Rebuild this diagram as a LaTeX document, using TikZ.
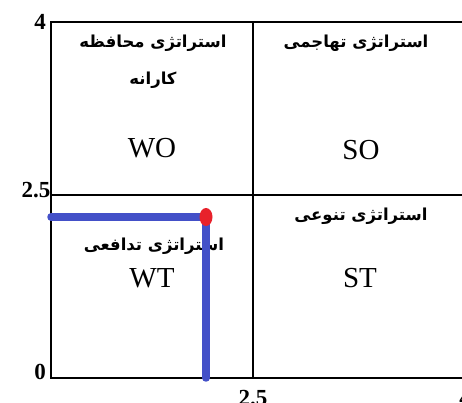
\documentclass[tikz,border=0pt]{standalone}
\usepackage{fontspec}
\setmainfont{Liberation Serif}
\newfontfamily\farsi[Script=Arabic]{DejaVu Sans}
\TeXXeTstate=1
\usetikzlibrary{positioning}
\definecolor{routeblue}{HTML}{4350C8}
\definecolor{dotred}{HTML}{E8212B}
\tikzset{
  frame/.style={line width=1.8pt,black},
  strat/.style={font=\farsi\bfseries\fontsize{16.5}{37}\selectfont,align=center,inner sep=0pt},
  code/.style={font=\fontsize{29}{29}\selectfont,inner sep=0pt},
  tick/.style={font=\bfseries\fontsize{23}{23}\selectfont,inner sep=0pt},
  routeline/.style={routeblue,line width=7.5pt,line cap=round},
}
\begin{document}
\begin{tikzpicture}[x=1pt,y=1pt]
  \useasboundingbox (0,0) rectangle (462,403);
  \clip (0,0) rectangle (462,403);
  % quadrant frame
  \coordinate (bl) at (51,25);
  \coordinate (tr) at (480,381);
  \draw[frame] (bl) rectangle (tr);
  \draw[frame] (253,25) -- (253,381);
  \draw[frame] (51,208) -- (480,208);
  % axis values
  \node[tick] (y4) at (40,381) {4};
  \node[tick] (y25) at (36,213) {2.5};
  \node[tick] (y0) at (40,31) {0};
  \node[tick] (x25) at (253,5) {2.5};
  \node[tick] (x4) at (465,5) {4};
  % quadrant texts
  \node[strat] (wo-t) at (153,341) {\beginR استراتژی محافظه\endR\\\beginR کارانه\endR};
  \node[code] (wo) at (152,255) {WO};
  \node[strat] (so-t) at (356,360) {\beginR استراتژی تهاجمی\endR};
  \node[code] (so) at (361,253) {SO};
  \node[strat] (st-t) at (361,187) {\beginR استراتژی تنوعی\endR};
  \node[code] (st) at (360,125) {ST};
  \node[strat] (wt-t) at (154,157) {\beginR استراتژی تدافعی\endR};
  \node[code] (wt) at (152,125) {WT};
  % position of the firm
  \coordinate (pa) at (51,186);
  \coordinate (pb) at (206,186);
  \coordinate (pc) at (206,25);
  \draw[routeline] (pa) -- (pb) -- (pc);
  \fill[dotred] (pb) ellipse (6.5pt and 9pt);
\end{tikzpicture}
\end{document}
